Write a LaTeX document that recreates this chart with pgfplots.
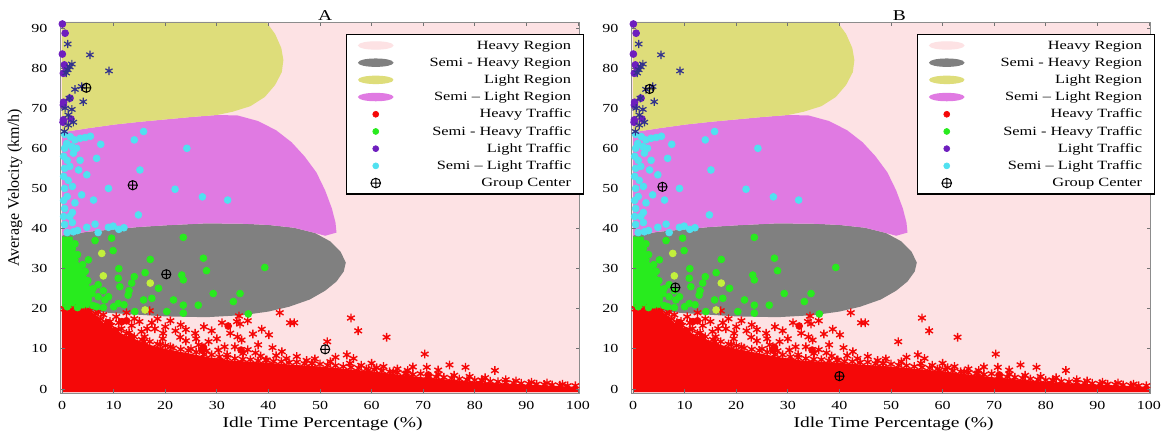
\documentclass[border=0pt]{standalone}
\usepackage{fontspec}
\setmainfont{Liberation Serif}[FakeStretch=1.3]
\newfontfamily\ylabfont{Liberation Serif}
\usepackage{pgfplots}
\pgfplotsset{compat=1.18}
\usepackage{pgfplotstable}
\usetikzlibrary{plotmarks}

\definecolor{pinkc}{RGB}{253,226,228}
\definecolor{yellowc}{RGB}{222,221,122}
\definecolor{magc}{RGB}{224,122,226}
\definecolor{grayc}{RGB}{128,128,128}
\definecolor{redc}{RGB}{245,8,8}
\definecolor{greenc}{RGB}{40,235,30}
\definecolor{ygc}{RGB}{195,240,60}
\definecolor{purc}{RGB}{110,30,190}
\definecolor{bluec}{RGB}{50,50,140}
\definecolor{cyanc}{RGB}{80,225,240}

% ---------- regions ----------
\pgfplotstableread{
x y
-0.3 -1
100.3 -1
100.3 91.5
-0.3 91.5
}\bgpink

\pgfplotstableread{
x y
0 38.3
5 39.2
10 39.8
15 40.4
20 40.8
28 41.3
35 41.2
40 40.9
45 40.2
49 38.9
52 36.8
54 34.2
55 31.5
54.6 29.3
53.2 26.8
51 24.5
48 22.3
44 20.5
40 19.3
35 18.4
28 17.9
20 18.1
15 18.5
10 18.9
5 19.4
0 20
}\reggray

\pgfplotstableread{
x y
0 64
5 65
10 65.9
15 66.6
20 67.2
25 67.8
30 68.3
34 68.2
38 66.8
41.5 64.5
44.5 61.5
47 58
49.3 54
51 49.5
52.3 45
53 41.5
53.2 39
51 38.2
49 38.9
45 40.2
40 40.9
35 41.2
28 41.3
20 40.8
15 40.4
10 39.8
5 39.2
0 38.3
}\regmag

\pgfplotstableread{
x y
0 91.5
39.6 91.5
41.3 88.5
42.5 85
42.9 82
42.6 79
41.3 75.8
39.3 72.8
36.5 70.5
33 69.1
30 68.3
25 67.8
20 67.2
15 66.6
10 65.9
5 65
0 64
}\regyellow

% ---------- dense cores ----------
\pgfplotstableread{
x y
0 -0.8
0 19.8
5 19.8
6.5 18.5
8 16.5
10 15
12 13.5
14 12.5
17 11
20 10
24 9
28 8
32 7.2
36 6.8
40 6.5
45 6
50 5.6
55 5
60 4.4
65 3.6
70 2.9
75 2.3
80 1.8
85 1.4
90 1.1
95 0.8
100 0.5
100 -0.8
}\redcore

\pgfplotstableread{
x y
0 20
5 20
5.8 22
5.5 25
4.8 28
4 30
3 32
2.5 35
2 38
0 38
}\greencore

% ---------- points ----------
\pgfplotstableread{
x y
0.5 20
1.5 19.8
2.5 20.2
3.5 19.6
4.5 19.5
5.5 19.6
6.5 18.8
7.5 17.5
8.5 16.5
9.5 15.8
11 14.8
12.5 13.8
14 13
15.5 12.3
17 11.8
18.5 11.2
20 10.8
21.5 10.2
23 9.9
24.5 9.6
26 9.2
27.5 8.6
29 8.5
30.5 8.0
32 7.8
33.5 7.6
35 7.4
36.5 7.3
38 7.0
39.5 7.2
41 6.9
42.5 6.8
44 6.6
45.5 6.7
47 6.3
48.5 6.4
50 6.2
51.5 5.9
53 5.8
54.5 5.6
56 5.4
57.5 5.2
59 5.0
60.5 4.8
62 4.5
63.5 4.3
65 4.1
66.5 3.8
68 3.6
69.5 3.8
71 3.2
72.5 3.0
74 2.9
75.5 2.7
77 2.5
78.5 2.3
80 2.2
81.5 2.1
83 1.9
84.5 1.8
86 1.6
87.5 1.5
89 1.4
90.5 1.3
92 1.2
93.5 1.1
95 1.0
96.5 0.9
98 0.8
99.5 0.8
7 19.2
8 18.5
9.3 16.8
9.9 13.9
10.5 18
11.5 15
12.5 19
13 14
14 17.5
15.4 14.3
15.8 11.8
16 13
17 19.5
17.4 16.5
18 15
19 11
19.6 13.9
20 15.5
21 17
21 10.5
22.9 12.9
23 16
24 12
25 10
25.8 13.9
26 12.5
28 9.5
28.4 11.8
29 14.5
30.3 9.7
31 16.5
32 8.5
32.6 13.9
33.5 10.5
33.9 16.8
34 13
34.3 18.2
34.5 16.2
34.8 12.2
35.1 8.9
36 17
37 13.7
37.5 9
38 11
38.7 14.9
39.7 7.2
40.1 13.5
40.8 10.3
42.2 19.0
42.6 9.3
44.2 16.5
45.0 16.5
45.5 8.1
47.4 7.1
48.4 6.4
51.4 11.8
55.2 8.5
56.0 17.7
56.5 7.6
55.8 6.4
57.4 14.5
59.4 4.7
62.3 5.6
62.9 12.9
64.2 4.3
66.8 3.9
70.3 8.7
70.7 5.4
72.9 4.7
75.1 6.0
78.2 5.4
81.3 2.2
83.9 4.6
11 16.5
13.5 15.8
15 16.8
16.5 15
18.5 17.5
19.5 12.5
22 14.5
24 14.8
26.5 11
27.5 15.5
30 12.5
31.5 10.5
36 9.8
38.5 8.2
41.5 8.3
43.5 7.6
49 7.5
52 6.8
53 7.9
58 5.9
60 6.4
61 5.3
65 5
67 4.6
68 5.5
73 3.7
76 3.4
79 3.1
82 2.8
86 2.3
88 2.0
91 1.7
94 1.5
97 1.2
}\redast

\pgfplotstableread{
x y
11.6 16.8
13.4 13.0
27.1 9.7
27.4 10.4
30.6 6.8
32.2 15.7
34.7 9.7
47.7 4.7
71 3.5
2.5 2.5
4 1.2
3 17.5
10 14.5
9 16.5
12.5 17
21 5
30 4
}\redcirc

\pgfplotstableread{
x y
23.5 37.8
9.6 37.6
6.4 37
2.5 36.2
9.9 34.5
17.1 32.3
27.4 32.6
28 29.5
39.3 30.3
16.1 29.0
4.5 29.3
23.2 28.4
23.5 27.2
10.9 27.6
13.5 26.4
18.7 25.1
11.2 25.5
29.3 23.8
34.5 23.8
21.6 22.2
33.2 21.8
26.4 20.9
23.5 20.9
15.8 22.2
17.4 22.6
20.3 19.3
23.5 18.9
14.1 19.3
36.1 18.7
5.8 23.8
8.3 22.2
6.7 20.5
10.9 21.3
12.8 23.4
5.1 32.2
2.5 32.2
1 37
2 35
1 33
3 33.5
2 31
4 31
1 29
3 28.5
5 27
2 26.5
4 25.5
6 25
1 24
3 23.5
5 22.5
7 23
2 21.5
4 21
6 20.8
8 20.3
1 20.5
3 20.3
7 26
8 24.5
9 23
10 20.5
12 21
13 24.5
11 30
14 28
}\greencirc

\pgfplotstableread{
x y
7.7 33.8
8 28.2
17.1 26.4
16.1 19.7
}\ygcirc

\pgfplotstableread{
x y
15.8 64.2
14.0 62.1
24.2 60.0
6.7 57.5
15.1 54.6
4.8 53.4
9.0 50.0
21.9 49.8
27.2 47.9
32.1 47.1
6.1 47.1
3.8 48.4
14.8 43.4
4.8 40.3
6.4 41.1
9.0 40.3
9.9 40.6
2.2 39.2
3.2 54.6
2.5 46.4
1.6 62.9
2.5 62.1
0.9 61.2
1.9 60.4
2.8 60.0
3.5 62.5
4.5 62.7
2.2 58.8
0.5 63.5
0.5 60
1 57
0.5 55
1.2 52
0.5 50
1 48
0.5 45
1.5 43
0.5 41
1 39
2 41.5
3 39.5
7 39
11 39.8
12 40.2
2 50.5
1.5 55.5
2 44
7.5 61
5.5 63
3.5 57
0.3 58
0.3 53
0.3 47
0.3 43
}\cyancirc

\pgfplotstableread{
x y
0.06 91.0
0.6 88.7
0.06 83.5
0.45 80.8
0.25 78.7
1.55 72.5
0.25 70.8
0.25 67.1
1.74 67.3
0.8 80
0.3 71.5
0.2 66.5
}\purcirc

\pgfplotstableread{
x y
1.1 86.0
5.4 83.3
1.9 81.0
9.1 79.3
1.1 79.6
2.5 74.7
3.8 75.4
4.1 71.6
1.9 69.7
1.2 68.3
1.2 65.8
0.45 64.2
0.6 70.0
1.5 80.3
0.8 78.8
2.2 66.5
1.4 72.5
}\blueast

\pgfplotstableread{
x y
4.7 75.1
13.7 50.8
20.2 28.6
51 9.9
}\centA

\pgfplotstableread{
x y
3.2 74.8
5.7 50.4
8.2 25.3
40 3.2
}\centB

\pgfplotsset{common/.style={
  scale only axis, width=259.5pt, height=185.5pt,
  xmin=-0.3, xmax=100.3, ymin=-1, ymax=91.5,
  xtick={0,10,...,100}, ytick={0,10,...,90},
  tick align=inside, major tick length=2pt,
  tick style={black!55, line width=0.4pt},
  axis line style={black!45, line width=0.4pt},
  axis on top, clip=false,
  /pgf/number format/assume math mode=true,
  ticklabel style={font=\fontsize{6.15}{7}\selectfont},
  yticklabel style={xshift=-3pt},
  xticklabel style={yshift=-0.5pt},
  xlabel={Idle Time Percentage (\%)},
  xlabel style={font=\fontsize{7.5}{9}\selectfont, at={(axis description cs:0.505,0)}, anchor=base, yshift=-17.5pt},
  every axis title shift=0pt,
  title style={font=\fontsize{7.5}{9}\selectfont, anchor=base, yshift=0.75pt},
  legend cell align=right,
  legend style={at={(axis description cs:0.550,0.9677)}, anchor=north west,
    draw=black, line width=0.6pt, fill=white,
    font=\fontsize{6.3}{7}\selectfont,
    inner xsep=5.8pt, inner ysep=1.5pt, row sep=0.7pt,
    nodes={inner sep=0.6pt, text height=5.2pt, text depth=1.5pt},
    /tikz/every odd column/.append style={column sep=17.5pt}},
}}

\newcommand{\commonplots}{%
  \addplot[fill=pinkc, draw=none, forget plot] table {\bgpink};
  \addplot[fill=grayc, draw=none, forget plot] table {\reggray};
  \addplot[fill=magc, draw=none, forget plot] table {\regmag};
  \addplot[fill=yellowc, draw=none, forget plot] table {\regyellow};
  \addplot[fill=redc, draw=none, forget plot] table {\redcore};
  \addplot[only marks, mark=asterisk, mark size=2.2pt, redc, line width=0.7pt, forget plot] table {\redast};
  \addplot[only marks, mark=*, mark size=1.7pt, redc, forget plot] table {\redcirc};
  \addplot[fill=greenc, draw=none, forget plot] table {\greencore};
  \addplot[only marks, mark=*, mark size=1.7pt, greenc, forget plot] table {\greencirc};
  \addplot[only marks, mark=*, mark size=1.7pt, ygc, forget plot] table {\ygcirc};
  \addplot[only marks, mark=*, mark size=1.7pt, cyanc, forget plot] table {\cyancirc};
  \addplot[only marks, mark=*, mark size=1.7pt, purc, forget plot] table {\purcirc};
  \addplot[only marks, mark=asterisk, mark size=2.1pt, bluec, line width=0.6pt, forget plot] table {\blueast};
  \addlegendimage{legend image code/.code={\fill[pinkc] (0.3cm,0pt) ellipse (8.5pt and 1.8pt);}}
  \addlegendentry{Heavy Region}
  \addlegendimage{legend image code/.code={\fill[grayc] (0.3cm,0pt) ellipse (8.5pt and 1.8pt);}}
  \addlegendentry{Semi - Heavy Region}
  \addlegendimage{legend image code/.code={\fill[yellowc] (0.3cm,0pt) ellipse (8.5pt and 1.8pt);}}
  \addlegendentry{Light Region}
  \addlegendimage{legend image code/.code={\fill[magc] (0.3cm,0pt) ellipse (8.5pt and 1.8pt);}}
  \addlegendentry{Semi – Light Region}
  \addlegendimage{only marks, mark=*, mark size=1.5pt, redc, line width=0.3pt}
  \addlegendentry{Heavy Traffic}
  \addlegendimage{only marks, mark=*, mark size=1.5pt, greenc, line width=0.3pt}
  \addlegendentry{Semi - Heavy Traffic}
  \addlegendimage{only marks, mark=*, mark size=1.5pt, purc, line width=0.3pt}
  \addlegendentry{Light Traffic}
  \addlegendimage{only marks, mark=*, mark size=1.5pt, cyanc, line width=0.3pt}
  \addlegendentry{Semi – Light Traffic}
  \addlegendimage{only marks, mark=oplus, mark size=2.4pt, black, line width=0.5pt}
  \addlegendentry{Group Center}
}

\begin{document}
\begin{tikzpicture}
\useasboundingbox (0,0) rectangle (583pt,218.5pt);
\begin{axis}[common, at={(30.25pt,22pt)}, anchor=south west,
  title={A}, title style={at={(axis description cs:0.51,1)}},
  ylabel={Average Velocity (km/h)},
  ylabel style={font=\ylabfont\fontsize{8}{9}\selectfont, at={(axis description cs:-0.0877,0.553)}, anchor=center}]
\commonplots
\addplot[only marks, mark=oplus, mark size=2.3pt, black, line width=0.5pt, forget plot] table {\centA};
\end{axis}
\begin{axis}[common, at={(315.75pt,22pt)}, anchor=south west,
  title={B}, title style={at={(axis description cs:0.516,1)}}]
\commonplots
\addplot[only marks, mark=oplus, mark size=2.3pt, black, line width=0.5pt, forget plot] table {\centB};
\end{axis}
\end{tikzpicture}
\end{document}
